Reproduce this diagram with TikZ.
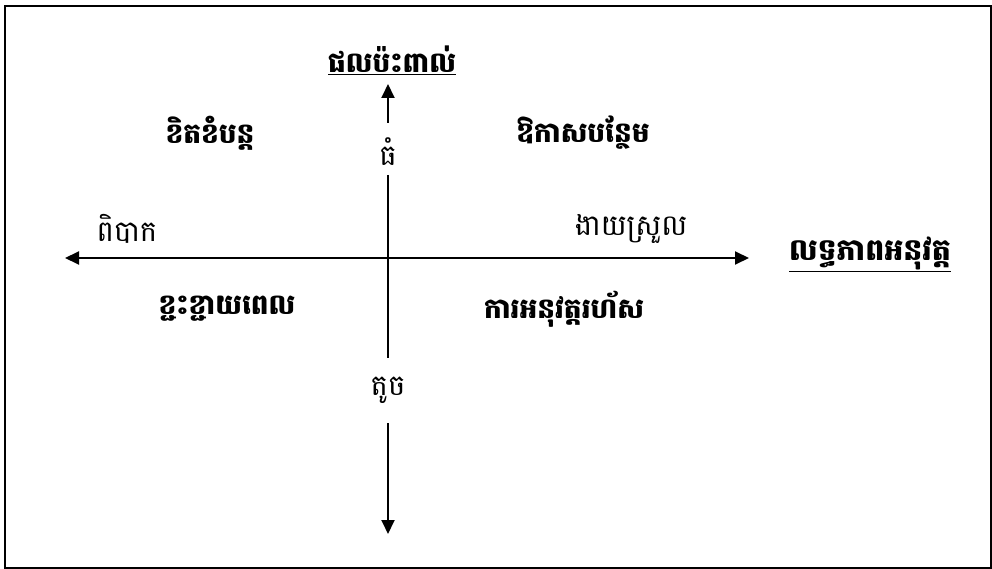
\documentclass[tikz,border=0pt]{standalone}
\usepackage{fontspec}
\newfontfamily\khmer[Script=Khmer]{Battambang}
\usetikzlibrary{arrows.meta}
\begin{document}
\begin{tikzpicture}[x=1pt,y=-1pt,
  axis/.style={line width=1.9pt,-{Triangle[length=14pt,width=13pt]}},
  plain/.style={line width=1.9pt},
  quad/.style={font=\khmer\bfseries\fontsize{28}{32}\selectfont,inner sep=0pt},
  lab/.style={font=\khmer\fontsize{29}{33}\selectfont,inner sep=0pt},
  ttl/.style={font=\khmer\bfseries\fontsize{28}{32}\selectfont,inner sep=0pt}]
\useasboundingbox (0,0) rectangle (992,569);
\draw[line width=1.5pt] (5,6) rectangle (991,568);
% axes
\coordinate (o) at (388,258);
\coordinate (left) at (65,258);
\coordinate (right) at (749,258);
\coordinate (top) at (388,84);
\coordinate (bottom) at (388,534);
\coordinate (topgap) at (388,123);
\coordinate (biggap) at (388,175);
\coordinate (smallgap1) at (388,358);
\coordinate (smallgap2) at (388,423);
\node[lab] (big) at (388,152) {ធំ};
\node[lab] (small) at (388,390) {តូច};
\draw[axis] (o) -- (left);
\draw[axis] (o) -- (right);
\draw[axis] (topgap) -- (top);
\draw[plain] (biggap) -- (smallgap1);
\draw[axis] (smallgap2) -- (bottom);
% titles
\node[ttl] (impact) at (392,60) {\underline{ផលប៉ះពាល់}};
\node[ttl,font=\khmer\bfseries\fontsize{30}{34}\selectfont] (feas) at (870,254) {\underline{លទ្ធភាពអនុវត្ត}};
% axis labels
\node[lab] (hard) at (127,229) {ពិបាក};
\node[lab] (easy) at (631,229) {ងាយស្រួល};
% quadrants
\node[quad] (q1) at (210,133) {ខិតខំបន្ត};
\node[quad] (q2) at (583,133) {ឱកាសបន្ថែម};
\node[quad] (q3) at (227,309) {ខ្ជះខ្ជាយពេល};
\node[quad] (q4) at (564,309) {ការអនុវត្តរហ័ស};
\end{tikzpicture}
\end{document}
